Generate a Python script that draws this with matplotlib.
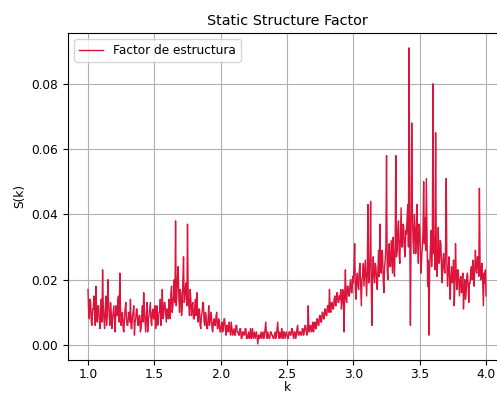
import numpy as np
import matplotlib
matplotlib.use("Agg")
import matplotlib.pyplot as plt

# valeurs, en unités de 1e-3 (pas de 0.005 en k, de 1.0 à 4.0)
s_basse = [
    17, 10, 8, 14, 13, 7, 6, 11, 11, 15, 9, 6, 18, 10, 7, 12, 12, 8, 5, 9,
    14, 7, 23, 12, 8, 5, 11, 15, 6, 9, 20, 13, 9, 6, 13, 10, 5, 8, 10, 12,
    7, 4, 12, 9, 9, 14, 15, 7, 22, 11, 6, 9, 10, 5, 4, 8, 11, 13, 8, 6,
    6, 10, 9, 7, 14, 5, 5, 9, 10, 12, 3, 7, 8, 11, 11, 6, 6, 9, 9, 4,
    5, 9, 12, 7, 16, 10, 7, 4, 10, 13, 4, 8, 9, 11, 13, 7, 6, 10, 11, 8,
    8, 12, 5, 9, 12, 6, 7, 10, 10, 14, 6, 9, 17, 8, 9, 13, 13, 10, 7, 11,
    11, 8, 14, 12, 8, 16, 18, 10, 12, 15, 20, 13, 38, 12, 15, 21, 24, 14, 10, 17,
    16, 9, 11, 20, 27, 13, 14, 18, 19, 12, 37, 16, 12, 9, 17, 14, 9, 12, 13, 8,
    8, 12, 14, 9, 16, 10, 7, 11, 11, 6, 5, 9, 10, 13, 13, 7, 6, 10, 9, 5,
    5, 8, 12, 6, 7, 10, 9, 5, 4, 7, 8, 6, 6, 9, 10, 5, 5, 8, 7, 4,
]
s_creux = [
    4, 6, 7, 4, 5, 8, 8, 5, 3, 6, 6, 4, 5, 7, 4, 3, 7, 5, 3, 4,
    5, 3, 3, 6, 6, 4, 4, 3, 3, 5, 5, 2, 2, 4, 4, 3, 3, 5, 5, 2,
    2, 3, 4, 2, 3, 5, 2, 3, 5, 2, 3, 4, 2, 3, 4, 2, 0.3, 3, 3, 2,
    3, 4, 2, 3, 4, 2, 3, 5, 7, 3, 2, 4, 3, 2, 2, 4, 4, 3, 3, 2,
    2, 3, 4, 2, 3, 5, 7, 3, 2, 4, 3, 2, 5, 3, 2, 4, 4, 2, 3, 4,
    3, 2, 2, 4, 4, 3, 3, 5, 5, 3, 2, 4, 4, 2, 3, 5, 6, 3, 3, 4,
    4, 3, 3, 5, 5, 3, 4, 6, 6, 4, 3, 5, 12, 4, 4, 6, 6, 4, 5, 7,
    4, 6, 7, 5, 5, 8, 8, 6, 6, 9, 9, 7, 7, 10, 10, 8, 8, 11, 11, 9,
    9, 12, 12, 10, 17, 11, 10, 13, 13, 11, 11, 14, 15, 12, 12, 16, 16, 13, 13, 15,
    14, 17, 11, 13, 17, 15, 4, 16, 23, 14, 13, 18, 18, 15, 15, 19, 20, 16, 16, 21,
]
s_pic = [
    19, 24, 31, 17, 14, 20, 22, 18, 17, 23, 25, 19, 12, 20, 21, 25, 18, 22, 26, 20,
    15, 23, 43, 19, 20, 26, 44, 18, 6, 22, 27, 21, 19, 25, 24, 20, 17, 23, 29, 21,
    37, 25, 22, 29, 28, 20, 16, 24, 26, 30, 58, 23, 20, 28, 31, 24, 24, 32, 27, 22,
    33, 26, 21, 30, 58, 27, 29, 35, 38, 28, 25, 33, 42, 30, 30, 37, 36, 29, 27, 35,
    34, 39, 43, 30, 91, 35, 6, 33, 68, 40, 32, 28, 40, 36, 28, 33, 43, 31, 25, 37,
    36, 30, 22, 27, 30, 35, 50, 31, 39, 29, 51, 34, 18, 26, 3, 24, 29, 35, 24, 30,
    80, 28, 33, 23, 65, 30, 21, 27, 36, 25, 26, 32, 31, 22, 19, 26, 28, 23, 22, 30,
    51, 24, 18, 23, 27, 20, 14, 21, 24, 19, 20, 26, 12, 18, 31, 22, 17, 23, 23, 19,
    15, 20, 21, 16, 18, 22, 11, 17, 20, 14, 16, 21, 22, 18, 13, 19, 19, 23, 24, 20,
    26, 21, 18, 24, 29, 23, 22, 27, 27, 21, 48, 25, 20, 24, 25, 18, 12, 22, 19, 23,
    15,
]

S = np.array(s_basse + s_creux + s_pic) / 1000
k = np.linspace(1.0, 4.0, len(S))

plt.rcParams['font.size'] = 8.7

fig = plt.figure(figsize=(4.97, 3.96), dpi=100)
ax = fig.add_axes([0.137, 0.091, 0.881, 0.826])
ax.plot(k, S, color='crimson', lw=1.0, label="Factor de estructura")
ax.set_xlim(0.85, 4.15)
ax.set_ylim(-0.0046, 0.0956)
ax.set_title("Static Structure Factor", fontsize=10.4)
ax.set_xlabel("k", labelpad=0)
ax.set_ylabel("S(k)")
ax.tick_params(axis='x', pad=2.5)
ax.grid(True)
ax.legend(loc='upper left')
fig.savefig("out.png", dpi=100)
